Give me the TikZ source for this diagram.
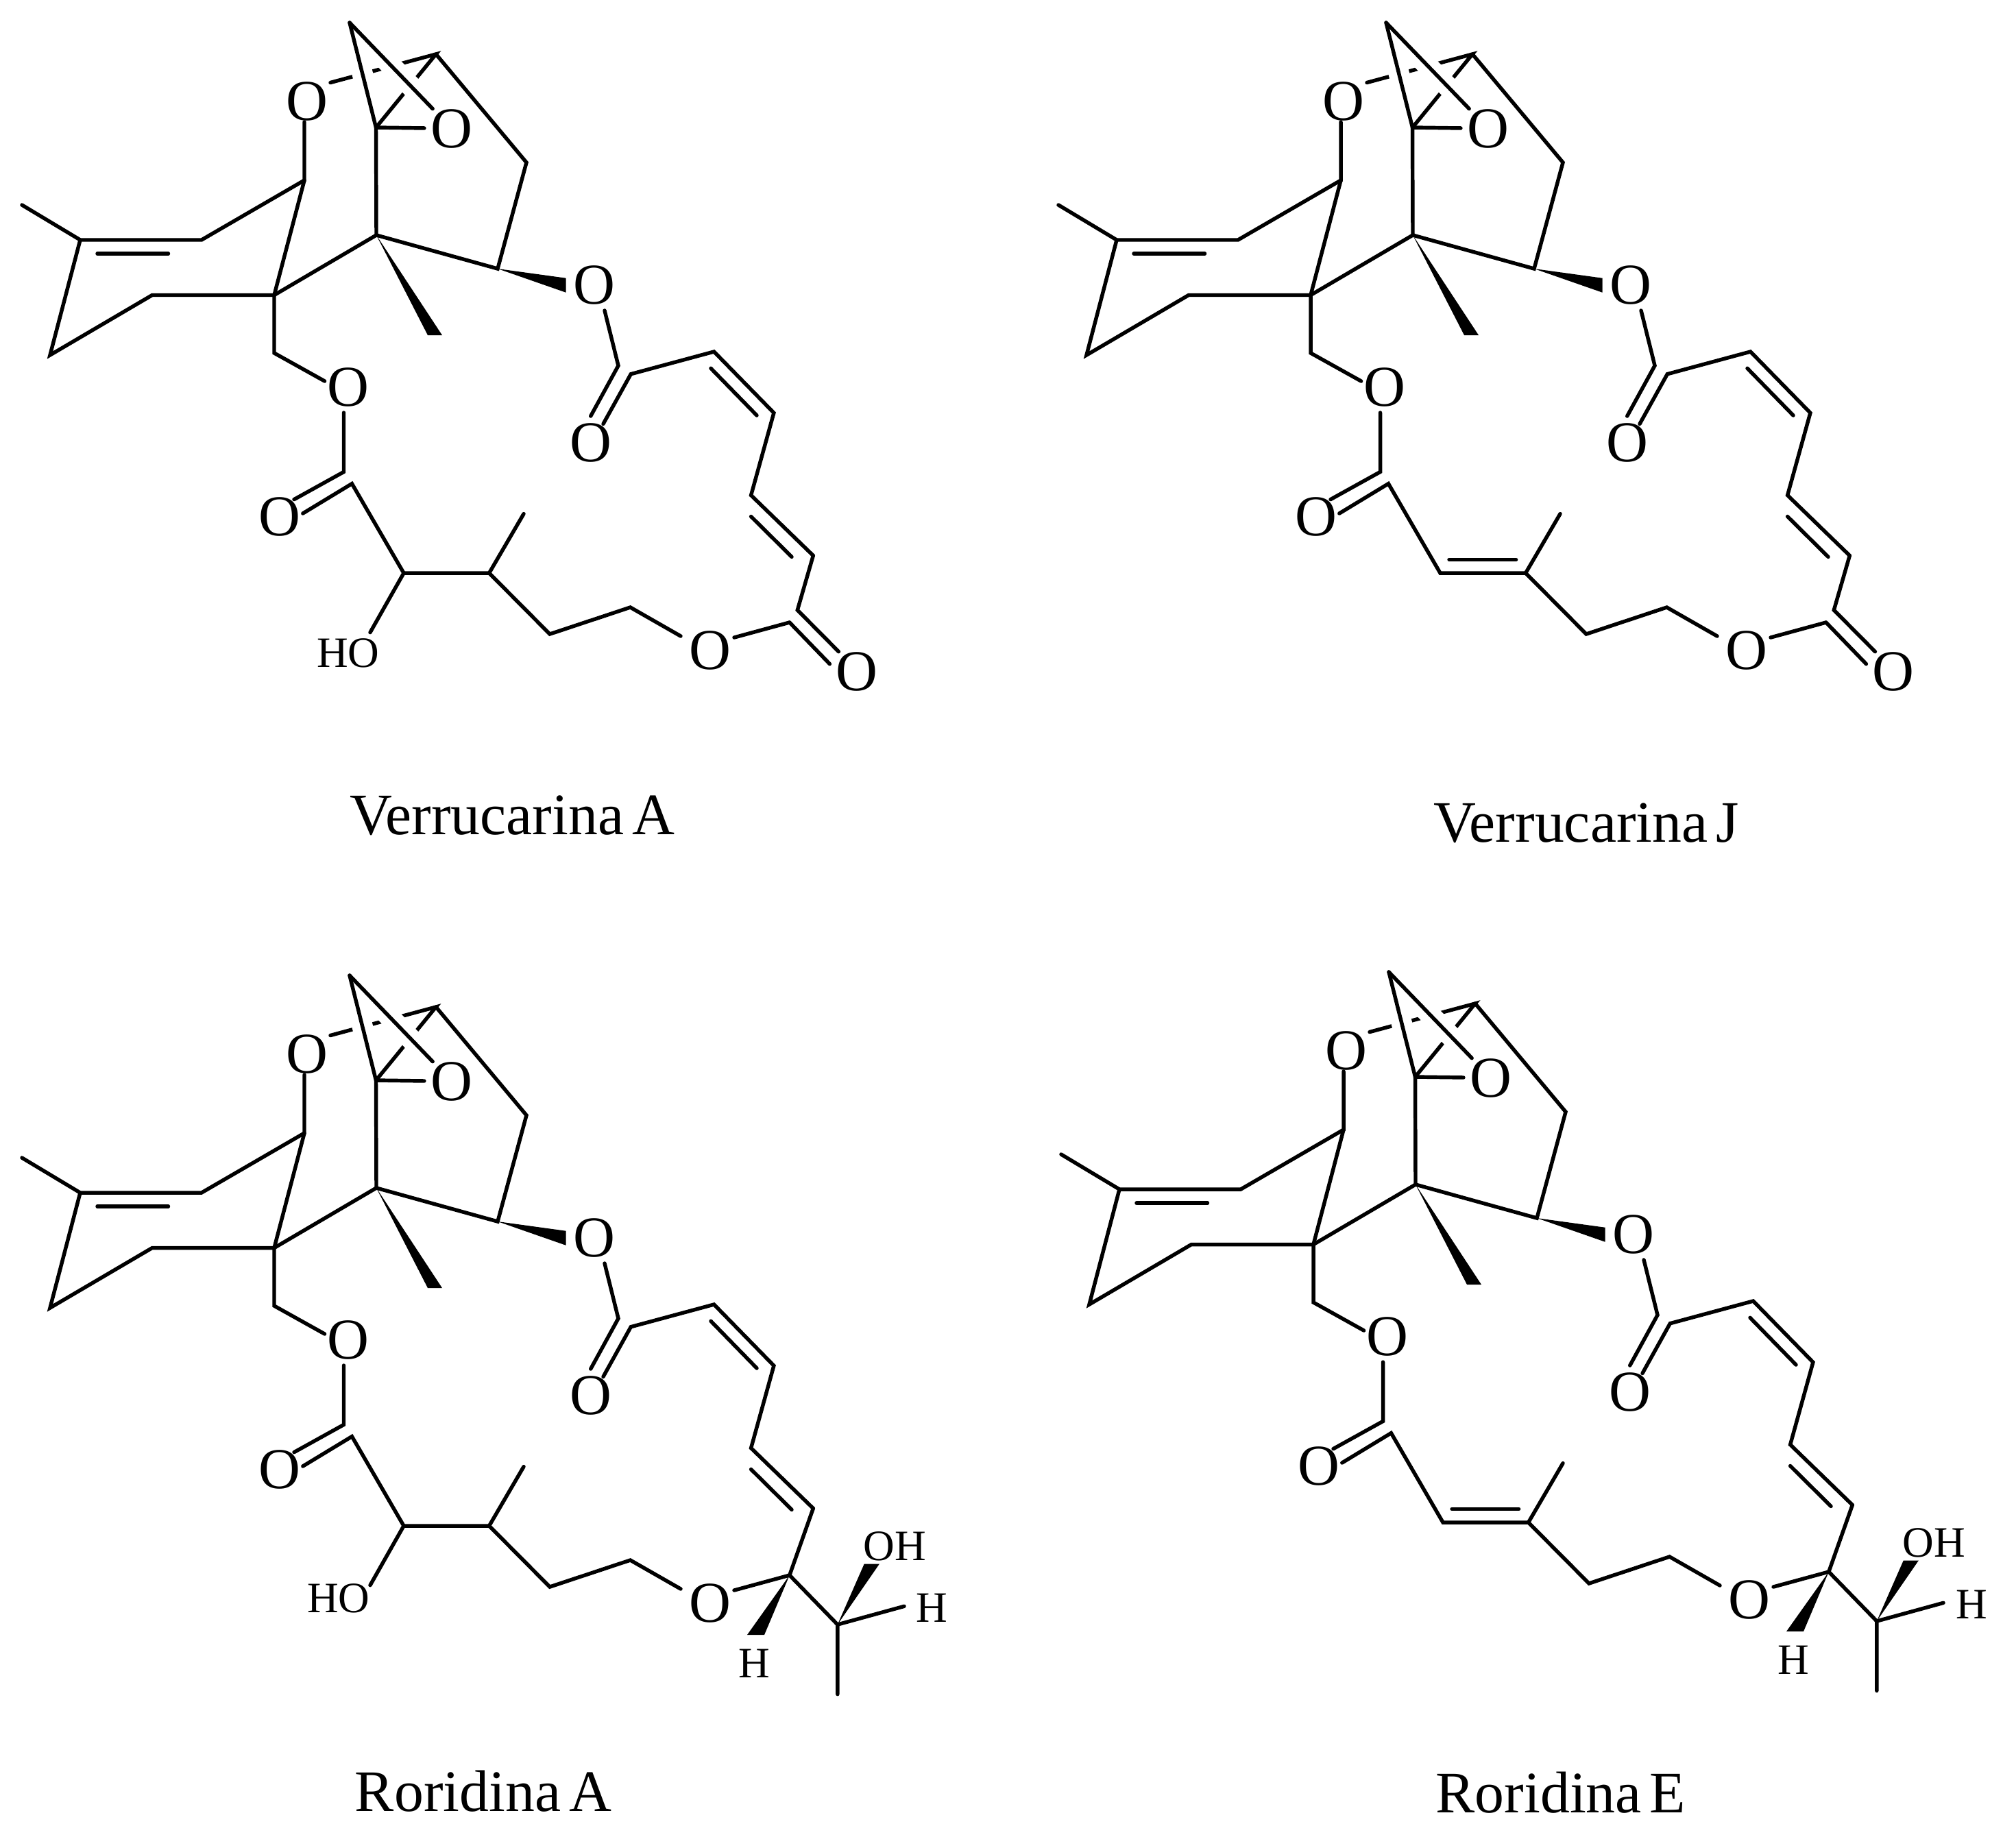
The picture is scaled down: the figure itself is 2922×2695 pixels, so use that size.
\documentclass[tikz,border=0pt]{standalone}
\usepackage{fontspec}
\setmainfont{Liberation Serif}
\newfontfamily\namefamily[WordSpace=0.56]{Liberation Serif}

% the part that all four molecules share
\newcommand{\ringcore}{
    % nodes
    \node[atomnode] (O1) at (448,148) {O};
    \node[atomnode] (O2) at (659,187.5) {O};
    \node[atomnode] (O3) at (866.5,416) {O};
    \node[atomnode] (O4) at (508,565) {O};
    \node[atomnode] (O5) at (408,754) {O};
    \node[atomnode] (O6) at (1036,949.4) {O};
    \node[atomnode] (O8) at (862,646) {O};
    \coordinate (apex) at (510,33);
    \coordinate (ctop) at (636,79);
    \coordinate (cep) at (548.5,186);
    \coordinate (cq) at (549,343);
    \coordinate (cr) at (768,237);
    \coordinate (co) at (726,392);
    \coordinate (cu) at (444,263);
    \coordinate (cd1) at (294,350);
    \coordinate (cd2) at (117,350);
    \coordinate (cme) at (32,299);
    \coordinate (cll) at (73,518);
    \coordinate (cl) at (222,430.5);
    \coordinate (cq2) at (400,430.5);
    \coordinate (cm) at (400,515);
    \coordinate (c9) at (501.5,688.4);
    \coordinate (c10) at (513.4,705.6);
    \coordinate (c11) at (589,836);
    \coordinate (c12) at (713.6,836);
    \coordinate (c12me) at (764,749.6);
    \coordinate (c13) at (802,925);
    \coordinate (c14) at (919.5,886);
    \coordinate (c15) at (1151.8,908);
    \coordinate (c17) at (1186.3,810.5);
    \coordinate (c18) at (1095.6,722.5);
    \coordinate (c19) at (1128.9,602.3);
    \coordinate (c20) at (1041.6,513);
    \coordinate (c21) at (920.3,545.7);
    \coordinate (c22) at (902,533.4);
    \coordinate (o1s) at (444,178);
    \coordinate (o1e) at (482,120.5);
    \coordinate (o3s) at (882,453);
    \coordinate (o4w) at (473.6,556);
    \coordinate (o4s) at (501.5,602);
    \coordinate (o5a) at (429,728.6);
    \coordinate (o5b) at (441.8,749);
    \coordinate (o6l) at (993,928);
    \coordinate (o6r) at (1071,930);
    \coordinate (o8a) at (861.7,607);
    \coordinate (o8b) at (880,618.4);
    % lines, those that pass behind first
    \draw (o1e) -- (ctop) -- (cep);
    \draw[gapline] (apex) -- (cep);
    \draw[gapline] (apex) -- (O2);
    \draw (apex) -- (cep) -- (O2);
    \draw (apex) -- (O2);
    \draw (ctop) -- (cr) -- (co) -- (cq) -- (cep);
    \draw (o1s) -- (cu) -- (cd1) -- (cd2) -- (cme);
    \draw (cd2) -- (cll) -- (cl) -- (cq2) -- (cu);
    \draw (142,370) -- (245.5,370);
    \draw (cq2) -- (cq);
    \draw (cq2) -- (cm) -- (o4w);
    \draw (o4s) -- (c9) -- (o5a);
    \draw (o5b) -- (c10) -- (c11) -- (c12) -- (c13) -- (c14) -- (o6l);
    \draw (c12) -- (c12me);
    \draw (o6r) -- (c15);
    \draw (c17) -- (c18) -- (c19) -- (c20) -- (c21) -- (o8b);
    \draw (1095.6,753.5) -- (1155,812.4);
    \draw (1037,537.3) -- (1104,606);
    \draw (o3s) -- (c22) -- (o8a);
    \fill (cq) -- (624,489) -- (645,489) -- cycle;
    \fill (co) -- (825.5,405.7) -- (825.5,426.7) -- cycle;
}
% hydroxy group of the A molecules, #1 and #2 place the HO
\newcommand{\hydroxygroup}[2]{
    \node[smallnode] (HO) at (#1,#2) {HO};
    \coordinate (hoe) at (540,922.6);
    \draw (c11) -- (hoe);
}
% second line of the double bond, in the J and E molecules
\newcommand{\enebond}{
    \draw (602,816.3) -- (699.6,816.3);
}
% lactone end of the verrucarins
\newcommand{\lactoneend}{
    \node[atomnode] (O7) at (1250,980) {O};
    \coordinate (c16) at (1163.3,890);
    \coordinate (o7a) at (1210.4,968.6);
    \coordinate (o7b) at (1223.4,950.6);
    \draw (c15) -- (o7a);
    \draw (c17) -- (c16) -- (o7b);
}
% side arm of the roridins
\newcommand{\sidearm}{
    \node[smallnode] (H1) at (1100.6,1036.4) {H};
    \node[smallnode] (H2) at (1359.8,956) {H};
    \node[smallnode] (OH) at (1305.5,865.7) {OH};
    \coordinate (ca) at (1221.8,980);
    \coordinate (cb) at (1221.8,1081.6);
    \coordinate (h2e) at (1319,953.3);
    \draw (c17) -- (c15) -- (ca) -- (cb);
    \draw (ca) -- (h2e);
    \fill (c15) -- (1090,995) -- (1115,995) -- cycle;
    \fill (ca) -- (1260.7,891.6) -- (1282.8,891.6) -- cycle;
}

\begin{document}
\begin{tikzpicture}[x=0.1mm, y=-0.1mm, line width=1.55pt, line cap=round,
                    atomnode/.style={circle, inner sep=-0.3mm, font=\fontsize{24}{24}\selectfont},
                    smallnode/.style={inner sep=0pt, font=\fontsize{18}{18}\selectfont},
                    namenode/.style={anchor=base, inner sep=0pt, font=\namefamily\fontsize{24.4}{25}\selectfont},
                    gapline/.style={white, line width=8.6pt, line cap=butt, shorten <=3.5mm, shorten >=3.5mm}]
    \useasboundingbox (0,0) rectangle (2922,2695);
    % molecules
    \begin{scope}[name prefix=va-]
        \ringcore
        \hydroxygroup{507.7}{952.5}
        \lactoneend
    \end{scope}
    \begin{scope}[shift={(1512,0)}, name prefix=vj-]
        \ringcore
        \enebond
        \lactoneend
    \end{scope}
    \begin{scope}[shift={(0,1390)}, name prefix=ra-]
        \ringcore
        \hydroxygroup{493.8}{941.8}
        \sidearm
    \end{scope}
    \begin{scope}[shift={(1516,1385)}, name prefix=re-]
        \ringcore
        \enebond
        \sidearm
    \end{scope}
    % names
    \node[namenode] (nameva) at (747,1217) {Verrucarina A};
    \node[namenode] (namevj) at (2314,1228) {Verrucarina J};
    \node[namenode] (namera) at (705,2642) {Roridina A};
    \node[namenode] (namere) at (2277,2644) {Roridina E};
\end{tikzpicture}
\end{document}
